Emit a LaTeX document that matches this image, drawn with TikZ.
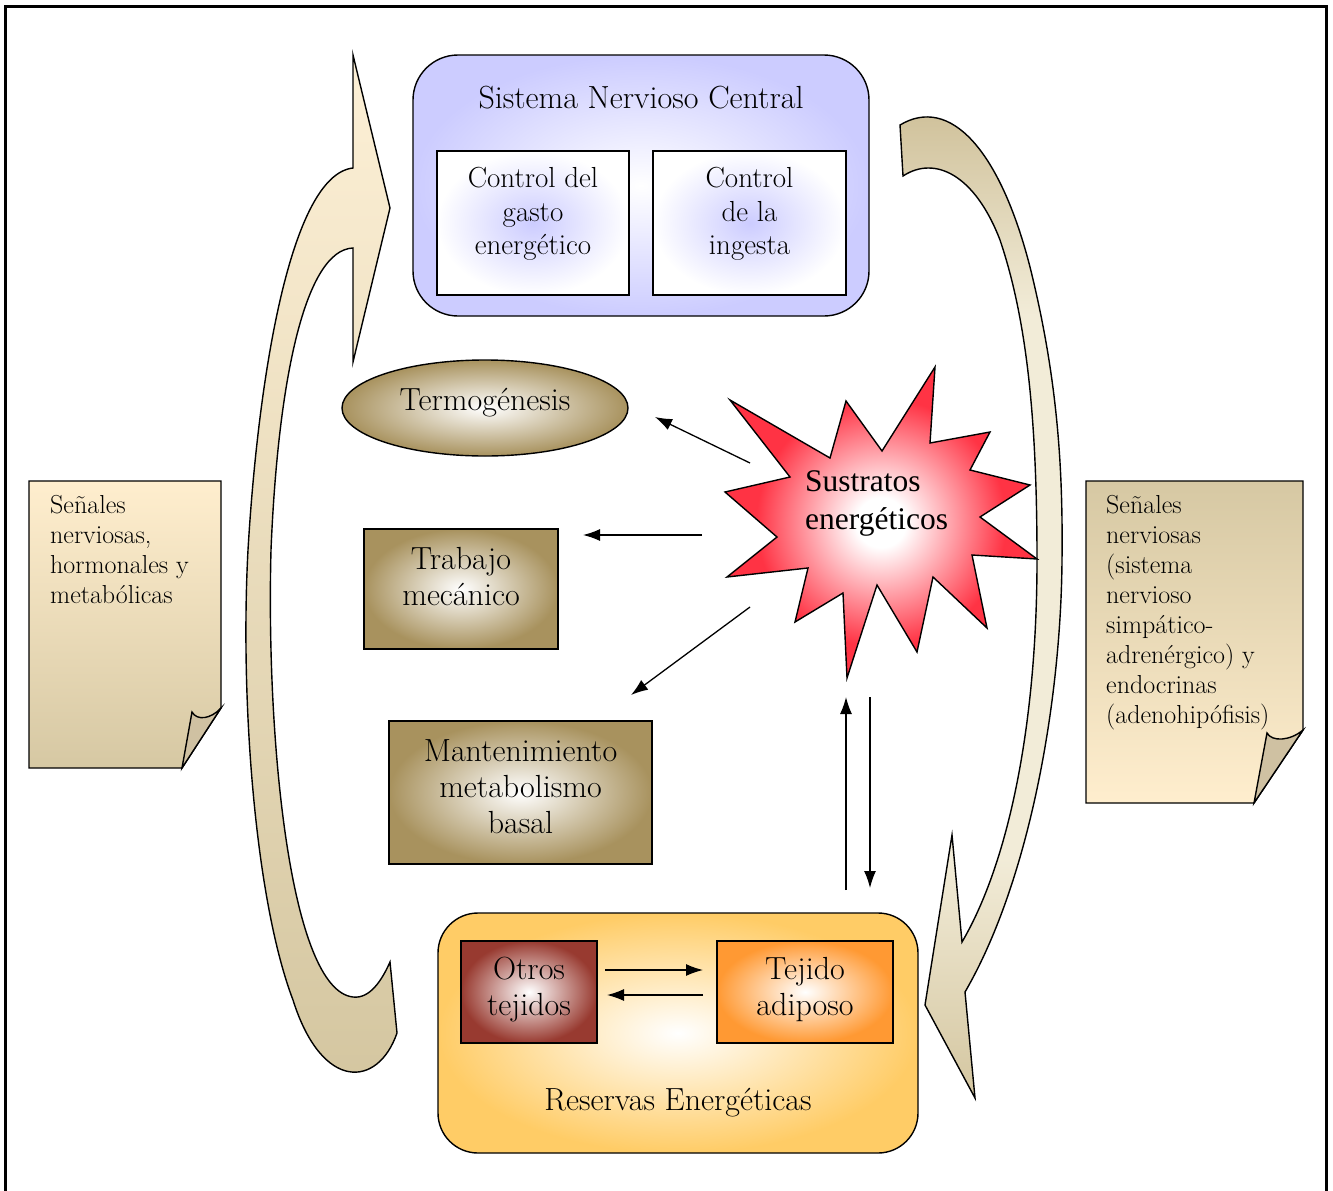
\documentclass[tikz,border=0pt]{standalone}
\usepackage{fontspec}
\newfontfamily\timesf{Liberation Serif}[Ligatures=TeX]
\usetikzlibrary{arrows.meta,shadings,shapes.geometric}
\definecolor{sncP}{RGB}{204,204,255}
\definecolor{brownC}{RGB}{168,146,94}
\definecolor{otrosC}{RGB}{152,58,48}
\definecolor{adipC}{RGB}{255,153,51}
\definecolor{resC}{RGB}{255,204,102}
\definecolor{starC}{RGB}{255,51,68}
\definecolor{creamC}{RGB}{255,238,206}
\definecolor{tanC}{RGB}{214,200,163}
\definecolor{flapC}{RGB}{207,193,162}
\definecolor{arrT}{RGB}{253,240,214}
\definecolor{arrB}{RGB}{212,198,160}
\definecolor{rT}{RGB}{205,190,150}
\definecolor{rL}{RGB}{242,236,216}
\definecolor{rB}{RGB}{212,198,160}
\pgfdeclareverticalshading{rarrowshade}{100bp}{color(0bp)=(rB); color(25bp)=(rB); color(37bp)=(rL); color(64bp)=(rL); color(75bp)=(rT); color(100bp)=(rT)}
\pgfdeclareradialshading{starshade}{\pgfpoint{0bp}{0bp}}{color(0bp)=(white); color(4bp)=(white); color(20bp)=(starC); color(50bp)=(starC)}
\tikzset{
  box/.style={draw=black, line width=1.4pt, inner sep=0pt, outer sep=0pt},
  txt/.style={font=\fontsize{32}{36}\selectfont, align=center, inner sep=0pt},
  ctxt/.style={font=\fontsize{29}{33.5}\selectfont, align=center, inner sep=0pt},
  dtxt/.style={font=\fontsize{26}{30}\selectfont, align=left, inner sep=0pt, anchor=north west},
  startxt/.style={font=\timesf\fontsize{31.5}{38}\selectfont, align=left, inner sep=0pt, anchor=west},
  conn/.style={line width=1.3pt, -{Latex[length=17pt,width=12pt]}},
  bigarrow/.style={draw=black, line width=1.4pt, line join=miter},
}
\begin{document}
\begin{tikzpicture}[x=1pt,y=-1pt]
\useasboundingbox (0,0) rectangle (1333,1191);
\draw[line width=3pt] (5,6) rectangle (1326,1215);

% big curved arrows
\draw[bigarrow, top color=arrT, bottom color=arrB]
  (353,55) -- (390,208) -- (353,362) -- (353,248)
  .. controls (305,250) and (278,380) .. (271,550)
  .. controls (266,740) and (290,990) .. (353,997)
  .. controls (370,999) and (382,980) .. (390,962)
  -- (397,1033)
  .. controls (378,1088) and (322,1092) .. (293,1000)
  .. controls (255,900) and (240,700) .. (248,550)
  .. controls (258,380) and (290,175) .. (353,168)
  -- cycle;
\draw[bigarrow, shading=rarrowshade]
  (900,125) .. controls (950,95) and (1000,150) .. (1030,267)
  .. controls (1058,380) and (1063,470) .. (1062,560)
  .. controls (1061,700) and (1030,880) .. (965,992)
  -- (975,1098) -- (925,1005) -- (952,835) -- (962,942)
  .. controls (1010,860) and (1037,720) .. (1037,560)
  .. controls (1037,420) and (1027,320) .. (1000,240)
  .. controls (975,175) and (935,155) .. (903,176)
  -- cycle;

% Sistema Nervioso Central
\node[box, rounded corners=45pt, minimum width=456pt, minimum height=261pt, inner color=white, outer color=sncP] (snc) at (641,185.5) {};
\node[txt] (snctitle) at (641,98) {Sistema Nervioso Central};
\node[box, minimum width=192pt, minimum height=144pt, inner color=sncP, outer color=white] (cg) at (533,223) {};
\node[ctxt] (cgtext) at (533,214) {Control del\\gasto\\energético};
\node[box, minimum width=193pt, minimum height=144pt, inner color=sncP, outer color=white] (ci) at (749.5,223) {};
\node[ctxt] (citext) at (749.5,214) {Control\\de la\\ingesta};

% outputs
\node[ellipse, draw=black, line width=1.4pt, inner sep=0pt, minimum width=286pt, minimum height=96pt, inner color=white, outer color=brownC] (termo) at (485,408) {};
\node[txt] (termotext) at (485,403) {Termogénesis};
\node[box, minimum width=194pt, minimum height=120pt, inner color=white, outer color=brownC] (trab) at (461,589) {};
\node[txt] (trabtext) at (461,577) {Trabajo\\mecánico};
\node[box, minimum width=263pt, minimum height=143pt, inner color=white, outer color=brownC] (mant) at (520.5,792.5) {};
\node[txt] (manttext) at (520.5,787) {Mantenimiento\\metabolismo\\basal};

% star
\draw[line width=1.4pt, line join=miter, shading=starshade]
  (730,400) -- (830,458) -- (846,401) -- (882,451) -- (935,367) -- (930,443)
  -- (990,432) -- (970,470) -- (1030,485) -- (980,517) -- (1037,559) -- (972,555)
  -- (987,628) -- (933,577) -- (917,652) -- (877,585) -- (847,678) -- (843,593)
  -- (795,622) -- (808,568) -- (727,577) -- (777,537) -- (725,492) -- (790,477) -- cycle;
\node[startxt] (sustratos) at (805,503) {Sustratos\\energéticos};

% reservas
\node[box, rounded corners=40pt, minimum width=480pt, minimum height=240pt, inner color=white, outer color=resC] (res) at (678,1033) {};
\node[txt] (restext) at (678,1103) {Reservas Energéticas};
\node[box, minimum width=136pt, minimum height=102pt, inner color=white, outer color=otrosC] (otros) at (529,992) {};
\node[txt] (otrostext) at (529,990) {Otros\\tejidos};
\node[box, minimum width=176pt, minimum height=102pt, inner color=white, outer color=adipC] (adip) at (805,992) {};
\node[txt] (adiptext) at (805,990) {Tejido\\adiposo};

% documents
\draw[line width=1.4pt, top color=creamC, bottom color=tanC] (29,481) -- (221,481) -- (221,708) -- (182,768) -- (29,768) -- cycle;
\draw[line width=1.4pt, fill=flapC, line join=miter] (182,768) -- (192,712) .. controls (197,721) and (211,719) .. (221,708) -- cycle;
\node[dtxt] (ldoc) at (50,495) {Señales\\nerviosas,\\hormonales y\\metabólicas};
\draw[line width=1.4pt, top color=tanC, bottom color=creamC] (1086,481) -- (1303,481) -- (1303,730) -- (1254,803) -- (1086,803) -- cycle;
\draw[line width=1.4pt, fill=flapC, line join=miter] (1254,803) -- (1267,733) .. controls (1272,742) and (1290,741) .. (1303,730) -- cycle;
\node[dtxt] (rdoc) at (1106,495) {Señales\\nerviosas\\(sistema\\nervioso\\simpático-\\adrenérgico) y\\endocrinas\\(adenohipófisis)};

% connectors
\coordinate (a1s) at (750,463); \coordinate (a1e) at (655,417);
\coordinate (a2s) at (702,535); \coordinate (a2e) at (583,535);
\coordinate (a3s) at (750,607); \coordinate (a3e) at (631,695);
\coordinate (us) at (846,890); \coordinate (ue) at (846,697);
\coordinate (ds) at (870,697); \coordinate (de) at (870,888);
\coordinate (h1s) at (605,970); \coordinate (h1e) at (703,970);
\coordinate (h2s) at (703,995); \coordinate (h2e) at (607,995);
\draw[conn] (a1s) -- (a1e);
\draw[conn] (a2s) -- (a2e);
\draw[conn] (a3s) -- (a3e);
\draw[conn] (us) -- (ue);
\draw[conn] (ds) -- (de);
\draw[conn] (h1s) -- (h1e);
\draw[conn] (h2s) -- (h2e);
\end{tikzpicture}
\end{document}
